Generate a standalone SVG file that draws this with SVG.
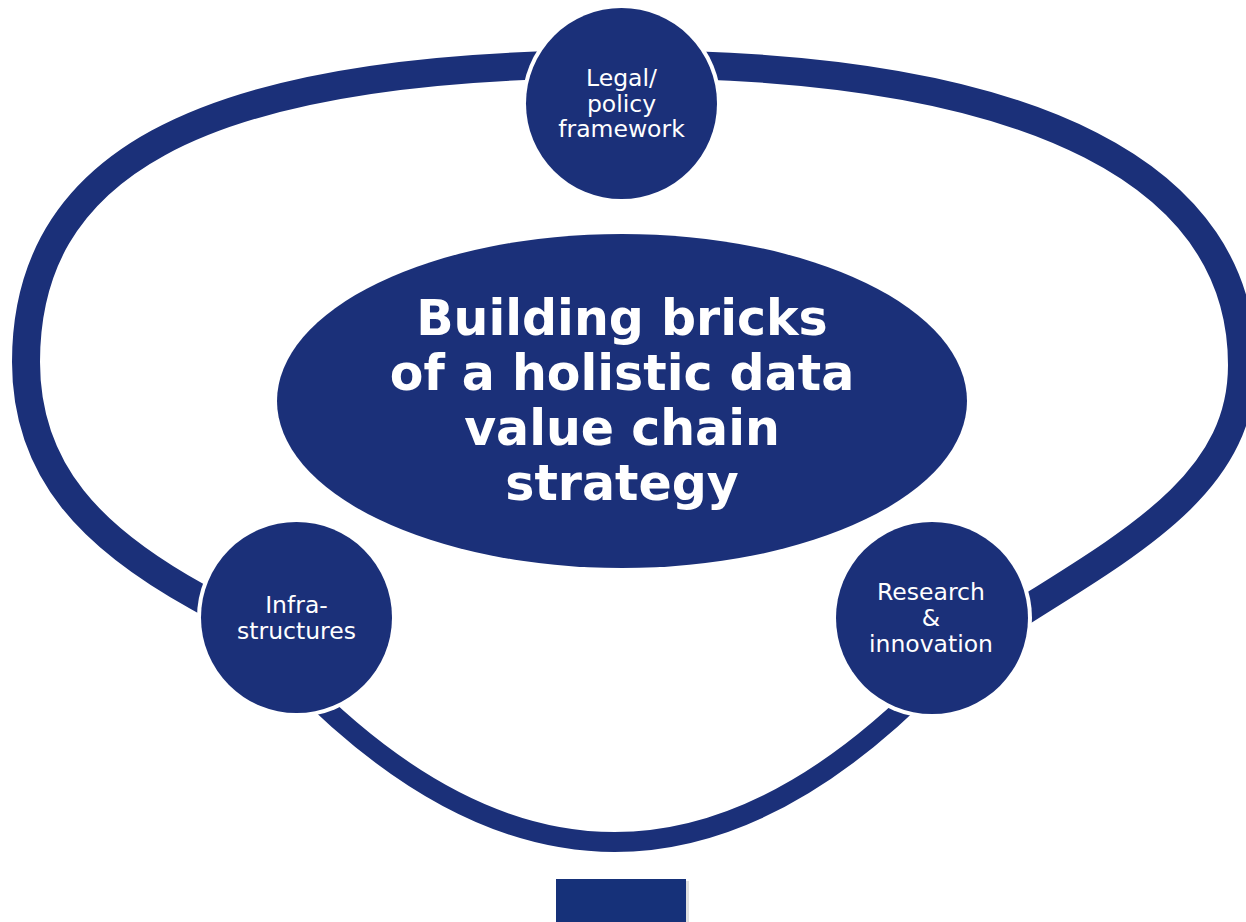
<svg xmlns="http://www.w3.org/2000/svg" width="1246" height="922" viewBox="0 0 1246 922">
<style>
.ring{fill:none;stroke:#1b3079;stroke-width:28}
.arc{fill:none;stroke:#1b3079;stroke-width:20}
.gap{fill:#ffffff}
.node{fill:#1b3079}
.lbl{fill:#ffffff;font-family:"DejaVu Sans","Verdana",sans-serif;font-size:23.5px;text-anchor:middle}
.title{fill:#ffffff;font-family:"DejaVu Sans","Verdana",sans-serif;font-size:49px;font-weight:bold;text-anchor:middle}
</style>
<rect x="0" y="0" width="1246" height="922" fill="#ffffff"/>
<g id="connectors">
<path class="ring" d="M232,616 L198,597 C93,539 26,472 26,362 C26,175 180,64 622,64 C1045,64 1242,180 1242,365 C1242,475 1149,533 1030,607 L1000,626"/>
<path class="arc" d="M294.5,677.5 Q614.5,1006.5 934.5,677.5"/>
</g>
<g id="central">
<ellipse class="node" cx="622" cy="401" rx="345" ry="167"/>
<text class="title" x="622" y="335">Building bricks</text>
<text class="title" x="622" y="390">of a holistic data</text>
<text class="title" x="622" y="445">value chain</text>
<text class="title" x="622" y="500">strategy</text>
</g>
<g id="legal">
<circle class="gap" cx="621.5" cy="103.5" r="99.5"/>
<circle class="node" cx="621.5" cy="103.5" r="95.5"/>
<text class="lbl" x="621.5" y="86">Legal/</text>
<text class="lbl" x="621.5" y="111.5">policy</text>
<text class="lbl" x="621.5" y="137">framework</text>
</g>
<g id="infra">
<circle class="gap" cx="296.5" cy="617.5" r="99.5"/>
<circle class="node" cx="296.5" cy="617.5" r="95.5"/>
<text class="lbl" x="296.5" y="613">Infra-</text>
<text class="lbl" x="296.5" y="639">structures</text>
</g>
<g id="research">
<circle class="gap" cx="932" cy="618" r="100"/>
<circle class="node" cx="932" cy="618" r="96"/>
<text class="lbl" x="931" y="600">Research</text>
<text class="lbl" x="931" y="626">&amp;</text>
<text class="lbl" x="931" y="652">innovation</text>
</g>
<g id="bottom-box">
<rect x="559" y="881" width="130" height="45" fill="#000000" opacity="0.12"/>
<rect x="556" y="879" width="130" height="45" fill="#163179"/>
</g>
</svg>
